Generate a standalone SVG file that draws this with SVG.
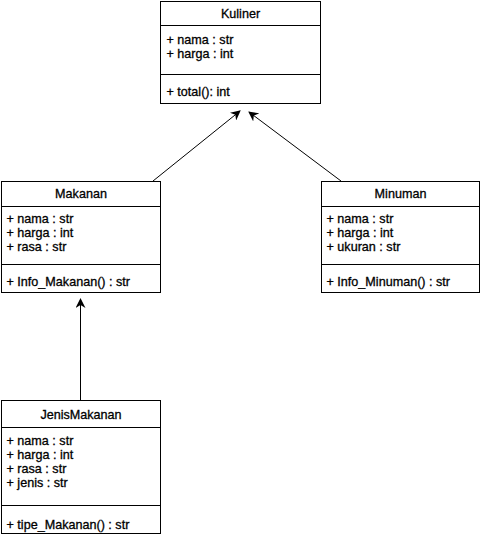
<svg xmlns="http://www.w3.org/2000/svg" width="481" height="538" viewBox="0 0 481 538">
<style>
.box{fill:#fff;stroke:#000;stroke-width:1}
.sep{stroke:#000;stroke-width:1}
.t{font-family:"Liberation Sans",Arial,sans-serif;font-size:12.6px;fill:#000;stroke:#000;stroke-width:0.3}
.c{text-anchor:middle}
.edge{stroke:#000;stroke-width:1;fill:none;marker-end:url(#arr)}
</style>
<defs>
<marker id="arr" viewBox="0 0 10 10" refX="9" refY="5" markerWidth="10" markerHeight="10" markerUnits="userSpaceOnUse" orient="auto">
<path d="M0,0 L10,5 L0,10 L3,5 Z" fill="#000"/>
</marker>
</defs>
<rect width="481" height="538" fill="#fff"/>
<g id="connectors">
<line class="edge" x1="153" y1="181" x2="240" y2="111"/>
<line class="edge" x1="341" y1="181" x2="249" y2="112"/>
<line class="edge" x1="80.5" y1="400" x2="80.5" y2="299"/>
</g>
<g id="kuliner">
<rect class="box" x="160.5" y="1.5" width="160" height="102"/>
<line class="sep" x1="160.5" y1="25.5" x2="320.5" y2="25.5"/>
<line class="sep" x1="160.5" y1="74.5" x2="320.5" y2="74.5"/>
<text class="t c" x="240.5" y="18">Kuliner</text>
<text class="t" x="166.5" y="44">+ nama : str</text>
<text class="t" x="166.5" y="58">+ harga : int</text>
<text class="t" x="166.5" y="96">+ total(): int</text>
</g>
<g id="makanan">
<rect class="box" x="1.5" y="181.5" width="159" height="111"/>
<line class="sep" x1="1.5" y1="206.5" x2="160.5" y2="206.5"/>
<line class="sep" x1="1.5" y1="264.5" x2="160.5" y2="264.5"/>
<text class="t c" x="81" y="198">Makanan</text>
<text class="t" x="6.5" y="223">+ nama : str</text>
<text class="t" x="6.5" y="237">+ harga : int</text>
<text class="t" x="6.5" y="251">+ rasa : str</text>
<text class="t" x="6.5" y="286">+ Info_Makanan() : str</text>
</g>
<g id="minuman">
<rect class="box" x="321.5" y="181.5" width="158" height="111"/>
<line class="sep" x1="321.5" y1="206.5" x2="479.5" y2="206.5"/>
<line class="sep" x1="321.5" y1="264.5" x2="479.5" y2="264.5"/>
<text class="t c" x="400.5" y="198">Minuman</text>
<text class="t" x="326.5" y="223">+ nama : str</text>
<text class="t" x="326.5" y="237">+ harga : int</text>
<text class="t" x="326.5" y="251">+ ukuran : str</text>
<text class="t" x="326.5" y="286">+ Info_Minuman() : str</text>
</g>
<g id="jenismakanan">
<rect class="box" x="1.5" y="400.5" width="159" height="133"/>
<line class="sep" x1="1.5" y1="427.5" x2="160.5" y2="427.5"/>
<line class="sep" x1="1.5" y1="505.5" x2="160.5" y2="505.5"/>
<text class="t c" x="81" y="419">JenisMakanan</text>
<text class="t" x="6.5" y="445">+ nama : str</text>
<text class="t" x="6.5" y="459">+ harga : int</text>
<text class="t" x="6.5" y="473">+ rasa : str</text>
<text class="t" x="6.5" y="487">+ jenis : str</text>
<text class="t" x="6.5" y="529">+ tipe_Makanan() : str</text>
</g>
</svg>
